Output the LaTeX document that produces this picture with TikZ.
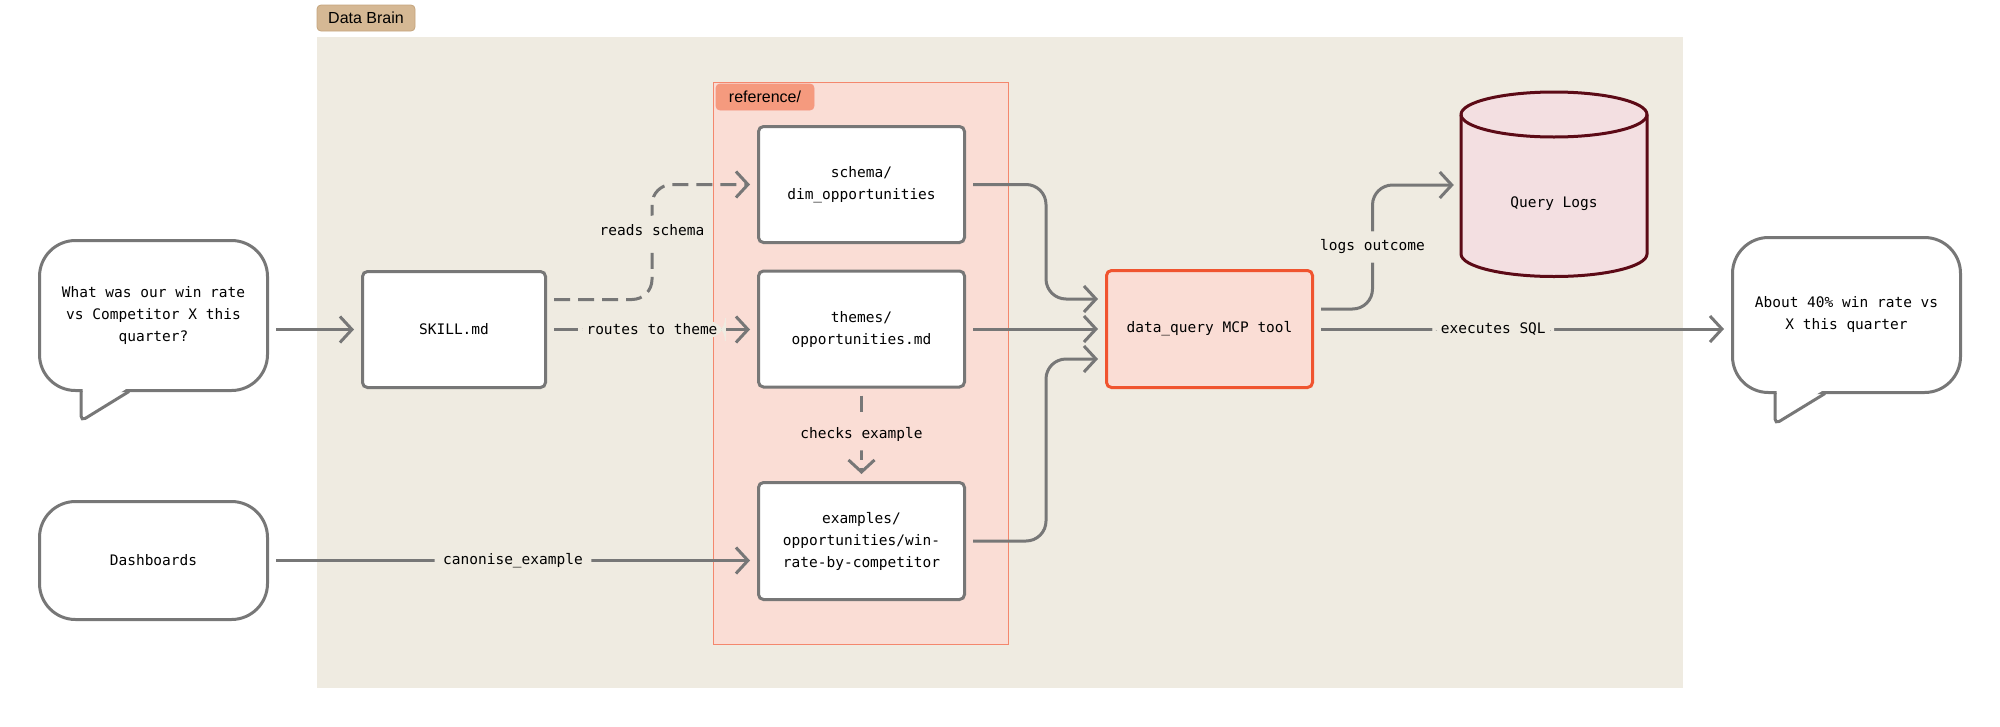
\documentclass[tikz,border=0pt]{standalone}
\usepackage{fontspec}
\setmainfont{Liberation Sans}
\setmonofont{DejaVu Sans Mono}
\usepackage{tikz}
\usetikzlibrary{arrows.meta,calc}
\definecolor{BrainBeige}{HTML}{EFEBE1}
\definecolor{BrainTan}{HTML}{D5B894}
\definecolor{BrainTanLine}{HTML}{C4A47C}
\definecolor{BrainPink}{HTML}{FADDD5}
\definecolor{BrainSalmon}{HTML}{F59A7E}
\definecolor{BrainCoral}{HTML}{F0542F}
\definecolor{BrainGray}{HTML}{777777}
\definecolor{BrainRose}{HTML}{F3DFE1}
\definecolor{BrainMaroon}{HTML}{5C0A16}

\begin{document}
\begin{tikzpicture}[x=1pt,y=-1pt,
  mono/.style={font=\ttfamily\fontsize{14.5}{22}\selectfont,align=center},
  file/.style={mono,draw=BrainGray,line width=3pt,fill=white,rounded corners=5pt,minimum width=206pt,minimum height=116pt},
  bubble/.style={mono,draw=BrainGray,line width=3pt,fill=white,rounded corners=36pt,minimum width=228pt},
  tag/.style={font=\fontsize{16}{18}\selectfont,rounded corners=4pt,minimum width=98pt,minimum height=26pt,line width=.8pt},
  flow/.style={draw=BrainGray,line width=3pt,-{Straight Barb[length=12pt,width=26pt]},shorten <=7pt,shorten >=7pt,rounded corners=20pt},
  lbl/.style={mono,fill=BrainBeige,draw=BrainBeige,line width=1pt,inner xsep=8pt,inner ysep=3pt},
  dashline/.style={dash pattern=on 16pt off 8pt}]
\useasboundingbox (0,0) rectangle (2000,726);
\fill[BrainBeige] (317,37) rectangle (1683,688);
\node[tag,fill=BrainTan,draw=BrainTanLine] (braintag) at (366,18) {Data Brain};
\filldraw[fill=BrainPink,draw=BrainCoral!70,line width=1pt] (713,82) rectangle (1008,644);
\node[tag,fill=BrainSalmon,draw=BrainCoral!60] (reftag) at (765,97) {reference/};

\node[bubble,minimum height=150pt] (q) at (153.5,315.5) {What was our win rate\\vs Competitor X this\\quarter?};
\fill[white] (82.5,389) -- (82.5,417) -- (126,389) -- cycle;
\draw[BrainGray,line width=3pt,rounded corners=5pt] (81,391) -- (81,421) -- (129,391.5);
\node[bubble,minimum height=118pt] (dash) at (153.5,560.5) {Dashboards};

\node[file,minimum width=183pt] (skill) at (454,329.5) {SKILL.md};
\node[file] (schema) at (861.5,184.5) {schema/\\dim\_opportunities};
\node[file] (themes) at (861.5,329) {themes/\\opportunities.md};
\node[file,minimum height=117pt] (examples) at (861.5,541) {examples/\\opportunities/win-\\rate-by-competitor};
\node[file,fill=BrainPink,draw=BrainCoral,minimum height=117pt] (dq) at (1209.5,329) {data\_query MCP tool};

\node[minimum width=186pt,minimum height=186pt] (logs) at (1554,185) {};
\filldraw[fill=BrainRose,draw=BrainMaroon,line width=3pt] (1461,114.5) -- (1461,254) arc[start angle=180,end angle=0,x radius=93,y radius=22.5] -- (1647,114.5) arc[start angle=0,end angle=-180,x radius=93,y radius=22.5] -- cycle;
\draw[BrainMaroon,line width=3pt] (1461,114.5) arc[start angle=180,end angle=0,x radius=93,y radius=22.5];
\node[mono] (logslabel) at (1554,204) {Query Logs};

\node[bubble,minimum height=155pt] (ans) at (1846.5,315) {About 40\% win rate vs\\X this quarter};
\fill[white] (1776.5,391) -- (1776.5,419) -- (1822,391) -- cycle;
\draw[BrainGray,line width=3pt,rounded corners=5pt] (1775,393) -- (1775,424) -- (1825,393.5);

\draw[flow] (q.east |- skill.west) -- (skill.west);
\draw[flow,dashline] ([yshift=30pt]skill.east) -- ++(105,0) -- node[lbl,pos=.6,inner ysep=9pt]{reads schema} ++(0,-115) -- (schema.west);
\draw[flow] (skill.east) -- node[lbl]{routes to theme} (skill.east -| themes.west);
\draw[flow,dashline] (themes.south) -- node[lbl,fill=BrainPink,draw=BrainPink,inner ysep=8pt]{checks example} (examples.north);
\draw[flow] (dash.east) -- node[lbl]{canonise\_example} (dash.east -| examples.west);
\draw[flow] (schema.east) -| ([xshift=-59pt,yshift=30pt]dq.west) -- ([yshift=30pt]dq.west);
\draw[flow] (themes.east) -- (dq.west);
\draw[flow] (examples.east) -| ([xshift=-59pt,yshift=-30pt]dq.west) -- ([yshift=-30pt]dq.west);
\draw[flow] ([yshift=20pt]dq.east) -- ++(58.5,0) -- node[lbl,inner ysep=8pt]{logs outcome} ++(0,-124) -- (logs.west);
\draw[flow] (dq.east) -- node[lbl,pos=.43]{executes SQL} (dq.east -| ans.west);
\end{tikzpicture}
\end{document}
